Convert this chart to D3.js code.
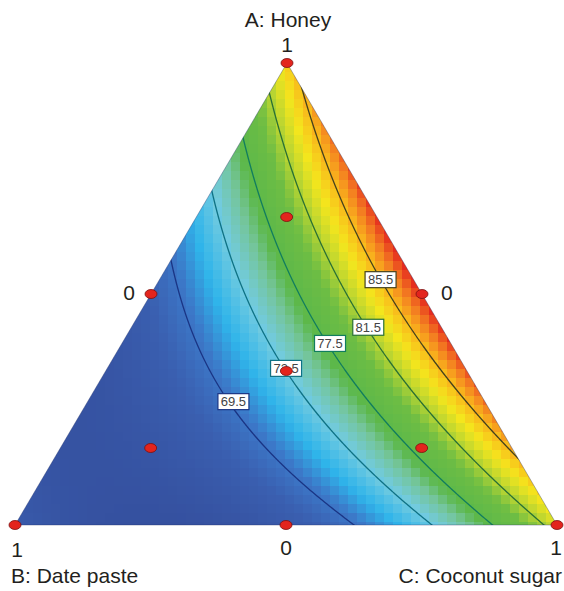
<!DOCTYPE html>
<html>
<head>
<meta charset="utf-8">
<script src="https://d3js.org/d3.v7.min.js"></script>
<style>
  body { margin:0; background:#fff; }
  svg { display:block; font-family: "Liberation Sans", Arial, Helvetica, sans-serif; }
</style>
</head>
<body>
<script>
var width = 564, height = 591;

// fitted mixture model (Scheffe quadratic)
var terms = ["A", "B", "C", "AB", "AC", "BC"];
var coefs = [84.5, 67.0, 82.6, -30.8, 21.2, -31.0];

var levels = [69.5, 73.5, 77.5, 81.5, 85.5];
var levelColors = ["#1a3585", "#0f7285", "#117d5e", "#2a7034", "#45421d"];
// label spots on each contour, as A/B/C fractions
var labelAt = [[0.267, 0.464, 0.269], [0.339, 0.331, 0.330], [0.393, 0.223, 0.384],
               [0.428, 0.135, 0.437], [0.531, 0.061, 0.408]];

var designPoints = [[1, 0, 0], [0, 1, 0], [0, 0, 1], [.5, .5, 0], [.5, 0, .5], [0, .5, .5],
                    [1/3, 1/3, 1/3], [2/3, 1/6, 1/6], [1/6, 2/3, 1/6], [1/6, 1/6, 2/3]];

var axisNames = ["A: Honey", "B: Date paste", "C: Coconut sugar"];
var tickHigh = "1", tickLow = "0";

// colour ramp stops (0 = min of surface, 1 = max)
var rampStops = [0, 0.12, 0.2, 0.27, 0.36, 0.44, 0.5, 0.62, 0.7, 0.78, 0.86, 0.93, 1];
var rampColors = ["#35509f", "#3a5fb0", "#3c78c8", "#2fb4ea", "#72cbe0", "#74c59a", "#5cb84a",
                  "#6dbd44", "#b9d532", "#f4e61d", "#f9b81c", "#f37b21", "#e52b1f"];

// triangle corners on screen
var vA = [287, 63], vB = [15, 525], vC = [557, 525];

function toXY(p) {
  return [p[0]*vA[0] + p[1]*vB[0] + p[2]*vC[0], p[0]*vA[1] + p[1]*vB[1] + p[2]*vC[1]];
}
var yA = d3.scaleLinear().domain([0, 1]).range([vB[1], vA[1]]);
function toABC(x, y) {
  var a = yA.invert(y);
  var c = (x - vB[0] - a*(vA[0] - vB[0])) / (vC[0] - vB[0]);
  return [a, 1 - a - c, c];
}
function response(p) {
  var a = p[0], b = p[1], c = p[2];
  var x = [a, b, c, a*b, a*c, b*c];
  return d3.sum(x, function(v, i) { return v * coefs[i]; });
}

var svg = d3.select("body").append("svg").attr("width", width).attr("height", height);

svg.append("clipPath").attr("id", "tri")
  .append("polygon").attr("points", [vA, vB, vC].map(function(d) { return d.join(","); }).join(" "));

// colour field in square cells
var cell = 9;
var cells = [];
for (var y = vA[1]; y < vB[1]; y += cell) {
  for (var x = vB[0]; x < vC[0]; x += cell) {
    var p = toABC(x + cell/2, y + cell/2);
    cells.push({x: x, y: y, v: response(p)});
  }
}
// surface range within the triangle
var fine = [];
for (var i = 0; i <= 60; i++) for (var j = 0; j <= 60 - i; j++) fine.push(response([i/60, j/60, 1 - i/60 - j/60]));
var lo = d3.min(fine), hi = d3.max(fine);
var color = d3.scaleLinear()
  .domain(rampStops.map(function(t) { return lo + t*(hi - lo); }))
  .range(rampColors).clamp(true);

var field = svg.append("g").attr("clip-path", "url(#tri)");
field.selectAll("rect").data(cells).join("rect")
  .attr("x", function(d) { return d.x; })
  .attr("y", function(d) { return d.y; })
  .attr("width", cell).attr("height", cell)
  .attr("shape-rendering", "crispEdges")
  .attr("fill", function(d) { return color(d.v); });

// contour lines
var step = 2, pad = 12;
var gx0 = vB[0] - pad, gy0 = vA[1] - pad;
var nx = Math.ceil((vC[0] - vB[0] + 2*pad)/step) + 1;
var ny = Math.ceil((vB[1] - vA[1] + 2*pad)/step) + 1;
var grid = new Array(nx*ny);
for (var j = 0; j < ny; j++) for (var i = 0; i < nx; i++)
  grid[j*nx + i] = response(toABC(gx0 + i*step, gy0 + j*step));

var contours = d3.contours().size([nx, ny]).thresholds(levels)(grid);
var proj = d3.geoTransform({point: function(x, y) {
  this.stream.point(gx0 + (x - 0.5)*step, gy0 + (y - 0.5)*step);
}});
var path = d3.geoPath(proj);

field.selectAll("path.level").data(contours).join("path")
  .attr("class", "level")
  .attr("d", path)
  .attr("fill", "none")
  .attr("stroke", function(d, i) { return levelColors[i]; })
  .attr("stroke-width", 1.3);

svg.append("polygon")
  .attr("points", [vA, vB, vC].map(function(d) { return d.join(","); }).join(" "))
  .attr("fill", "none").attr("stroke", "#1c2a60").attr("stroke-opacity", 0.35).attr("stroke-width", 1);

// contour labels
var lab = svg.selectAll("g.lab").data(levels).join("g").attr("class", "lab")
  .attr("transform", function(d, i) { var q = toXY(labelAt[i]); return "translate(" + q[0] + "," + q[1] + ")"; });
lab.append("rect")
  .attr("x", -15.5).attr("y", -8).attr("width", 31).attr("height", 16)
  .attr("fill", "#fff")
  .attr("stroke", function(d, i) { return levelColors[i]; }).attr("stroke-width", 1.2);
lab.append("text")
  .attr("text-anchor", "middle").attr("dy", "0.36em")
  .attr("font-size", 13).attr("fill", "#444")
  .text(function(d) { return d3.format(".1f")(d); });

// design points
svg.selectAll("ellipse").data(designPoints).join("ellipse")
  .attr("cx", function(d) { return toXY(d)[0]; })
  .attr("cy", function(d) { return toXY(d)[1]; })
  .attr("rx", 6).attr("ry", 4.5)
  .attr("fill", "#e3241d").attr("stroke", "#7a1010").attr("stroke-width", 0.8);

// axis text
var txt = svg.append("g").attr("fill", "#231f20").attr("font-size", 21);
txt.append("text").attr("x", 288).attr("y", 27).attr("text-anchor", "middle").text(axisNames[0]);
txt.append("text").attr("x", 11).attr("y", 583).attr("text-anchor", "start").text(axisNames[1]);
txt.append("text").attr("x", 562).attr("y", 583).attr("text-anchor", "end").text(axisNames[2]);

var mAB = toXY([.5, .5, 0]), mAC = toXY([.5, 0, .5]), mBC = toXY([0, .5, .5]);
txt.append("text").attr("x", vA[0]).attr("y", vA[1] - 11).attr("text-anchor", "middle").text(tickHigh);
txt.append("text").attr("x", mBC[0]).attr("y", mBC[1] + 30).attr("text-anchor", "middle").text(tickLow);
txt.append("text").attr("x", vB[0] + 2).attr("y", vB[1] + 32).attr("text-anchor", "middle").text(tickHigh);
txt.append("text").attr("x", mAC[0] + 19).attr("y", mAC[1] + 6).attr("text-anchor", "start").text(tickLow);
txt.append("text").attr("x", vC[0] - 1).attr("y", vC[1] + 30).attr("text-anchor", "middle").text(tickHigh);
txt.append("text").attr("x", mAB[0] - 16).attr("y", mAB[1] + 6).attr("text-anchor", "end").text(tickLow);
</script>
</body>
</html>
